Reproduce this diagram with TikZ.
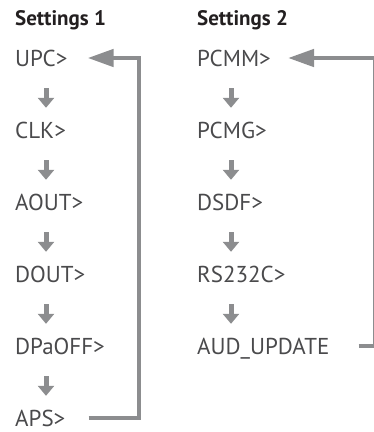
\documentclass[tikz,border=0pt]{standalone}
\usepackage{fontspec}
\setmainfont{PT Sans}
\usetikzlibrary{arrows.meta,positioning}
\definecolor{MnText}{HTML}{4A4A4C}
\definecolor{MnTitle}{HTML}{231F20}
\definecolor{MnGray}{HTML}{8C8D8F}

\begin{document}
\begin{tikzpicture}[
      x=1pt, y=-1pt,
      titulo/.style={anchor=west, inner sep=0pt, text height=14.7pt, text depth=0pt,
        font=\fontsize{21}{24}\selectfont\bfseries, text=MnTitle},
      opcion/.style={anchor=west, inner sep=0pt, text height=16pt, text depth=0pt,
        font=\fontsize{23}{26}\selectfont, text=MnText},
      bajada/.style={-{Triangle[length=10pt,width=16pt]}, line width=5pt, draw=MnGray,
        shorten <=22pt, shorten >=14pt},
      retorno/.style={-{Triangle[length=26pt,width=17pt]}, line width=4.5pt, draw=MnGray,
        line join=miter},
    ]
    \useasboundingbox (0,0) rectangle (374,432);

    % columna izquierda
    \node[titulo] (tit1) at (15,18.5) {Settings 1};
    \node[opcion] (upc)  at (15,58)   {UPC>};
    \node[opcion] (clk)  at (15,130)  {CLK>};
    \node[opcion] (aout) at (15,202)  {AOUT>};
    \node[opcion] (dout) at (15,274)  {DOUT>};
    \node[opcion] (dpa)  at (15,346)  {DPaOFF>};
    \node[opcion] (aps)  at (15,418)  {APS>};

    % columna derecha
    \node[titulo] (tit2) at (197,18.5) {Settings 2};
    \node[opcion] (pcmm) at (197,58)   {PCMM>};
    \node[opcion] (pcmg) at (197,130)  {PCMG>};
    \node[opcion] (dsdf) at (197,202)  {DSDF>};
    \node[opcion] (rs)   at (197,274)  {RS232C>};
    \node[opcion] (aud)  at (197,346)  {AUD\_UPDATE};

    \coordinate (vueltaL) at (139,0);
    \coordinate (vueltaR) at (375.5,0);

    \draw[bajada] ([xshift=31pt]upc.south west)  -- ([xshift=31pt]clk.north west);
    \draw[bajada] ([xshift=31pt]clk.south west)  -- ([xshift=31pt]aout.north west);
    \draw[bajada] ([xshift=31pt]aout.south west) -- ([xshift=31pt]dout.north west);
    \draw[bajada] ([xshift=31pt]dout.south west) -- ([xshift=31pt]dpa.north west);
    \draw[bajada] ([xshift=31pt]dpa.south west)  -- ([xshift=31pt]aps.north west);

    \draw[bajada] ([xshift=34pt]pcmm.south west) -- ([xshift=34pt]pcmg.north west);
    \draw[bajada] ([xshift=34pt]pcmg.south west) -- ([xshift=34pt]dsdf.north west);
    \draw[bajada] ([xshift=34pt]dsdf.south west) -- ([xshift=34pt]rs.north west);
    \draw[bajada] ([xshift=34pt]rs.south west)   -- ([xshift=34pt]aud.north west);

    \draw[retorno, shorten <=23pt, shorten >=20pt]
      (aps.east) -- (aps.east -| vueltaL) -- (upc.east -| vueltaL) -- (upc.east);
    \draw[retorno, shorten <=29pt, shorten >=17pt]
      (aud.east) -- (aud.east -| vueltaR) -- (pcmm.east -| vueltaR) -- (pcmm.east);

  \end{tikzpicture}
\end{document}
